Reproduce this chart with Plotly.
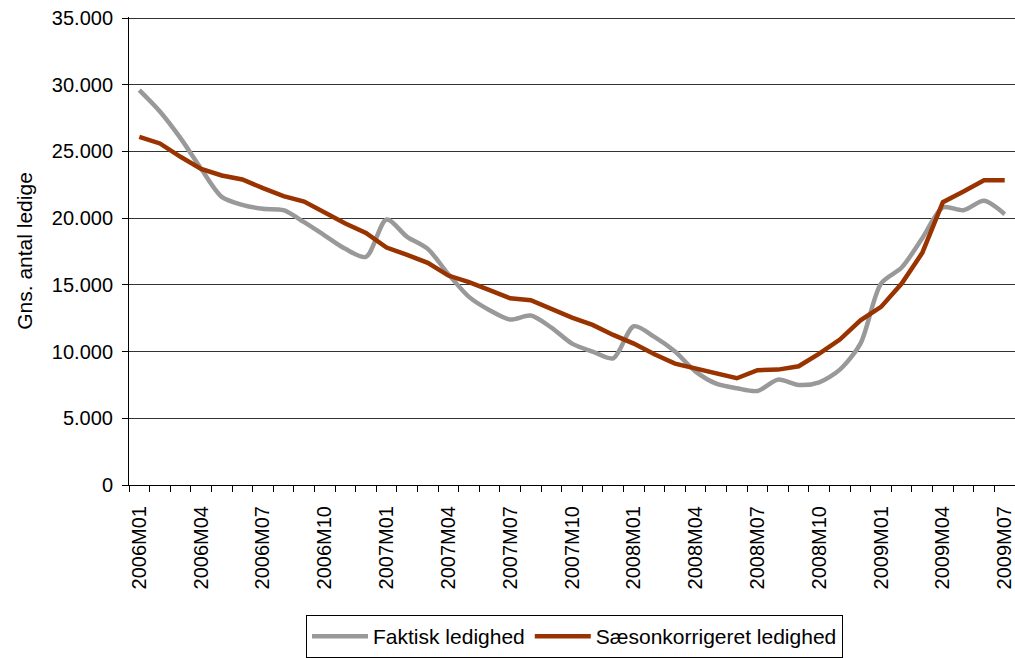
import plotly.graph_objects as go

months = [f"{y}M{m:02d}" for y in (2006, 2007, 2008, 2009) for m in range(1, 13)][:43]

faktisk = [29600, 28000, 26000, 23700, 21600, 21000, 20700, 20600, 19700, 18700,
           17700, 17100, 19900, 18600, 17700, 15800, 14100, 13100, 12400, 12700,
           11800, 10600, 10000, 9500, 11900, 11100, 10000, 8500, 7600, 7250,
           7050, 7900, 7500, 7700, 8650, 10600, 15100, 16300, 18500, 20800,
           20600, 21300, 20300]

saeson = [26100, 25600, 24600, 23700, 23200, 22900, 22250, 21650, 21250, 20400,
          19600, 18900, 17800, 17250, 16650, 15700, 15200, 14600, 14000, 13850,
          13200, 12550, 12000, 11250, 10600, 9800, 9100, 8750, 8350, 8000,
          8600, 8650, 8900, 9850, 10900, 12350, 13350, 15100, 17400, 21200,
          22000, 22850, 22850]

y_ticks = [0, 5000, 10000, 15000, 20000, 25000, 30000, 35000]

tick_text = [m if i % 3 == 0 else "" for i, m in enumerate(months)]

fig = go.Figure()
fig.add_trace(go.Scatter(x=months, y=faktisk, mode="lines", name="Faktisk ledighed",
                         line=dict(color="#999999", width=4.5, shape="spline", smoothing=0.8)))
fig.add_trace(go.Scatter(x=months, y=saeson, mode="lines", name="Sæsonkorrigeret ledighed",
                         line=dict(color="#993300", width=4.5)))

font = "Liberation Sans, Arial, sans-serif"
fig.update_layout(
    width=1015, height=658,
    margin=dict(l=129, r=0, t=17, b=173, autoexpand=False),
    paper_bgcolor="white", plot_bgcolor="white",
    separators=",.",
    font=dict(family=font, size=20, color="black"),
    showlegend=True,
    legend=dict(orientation="h", x=0.1998, xanchor="left", y=-0.278, yanchor="top",
                bordercolor="black", borderwidth=1, font=dict(size=21),
                itemwidth=56, traceorder="normal"),
    xaxis=dict(type="category", categoryorder="array", categoryarray=months,
               tickvals=months, ticktext=tick_text, tickangle=-90,
               tickson="boundaries", ticks="outside", ticklen=6, tickcolor="black",
               showline=True, linecolor="black", linewidth=1, showgrid=False,
               range=[-0.5, 42.5], ticklabelstandoff=12, automargin=False,
               ticklabeloverflow="allow", tickfont=dict(size=20)),
    yaxis=dict(range=[0, 35080], tickvals=y_ticks, tickformat=",d",
               showgrid=True, gridcolor="#333333", gridwidth=1,
               showline=True, linecolor="black", linewidth=1,
               ticks="outside", ticklen=6, tickcolor="black",
               ticklabelstandoff=5, zeroline=False, automargin=False,
               ticklabeloverflow="allow",
               title=dict(text="Gns. antal ledige", standoff=13, font=dict(size=21)),
               tickfont=dict(size=20)),
)

fig.write_html("out.html", config={"displayModeBar": False},
               post_script="document.body.style.margin='0';document.body.style.overflow='hidden';")
